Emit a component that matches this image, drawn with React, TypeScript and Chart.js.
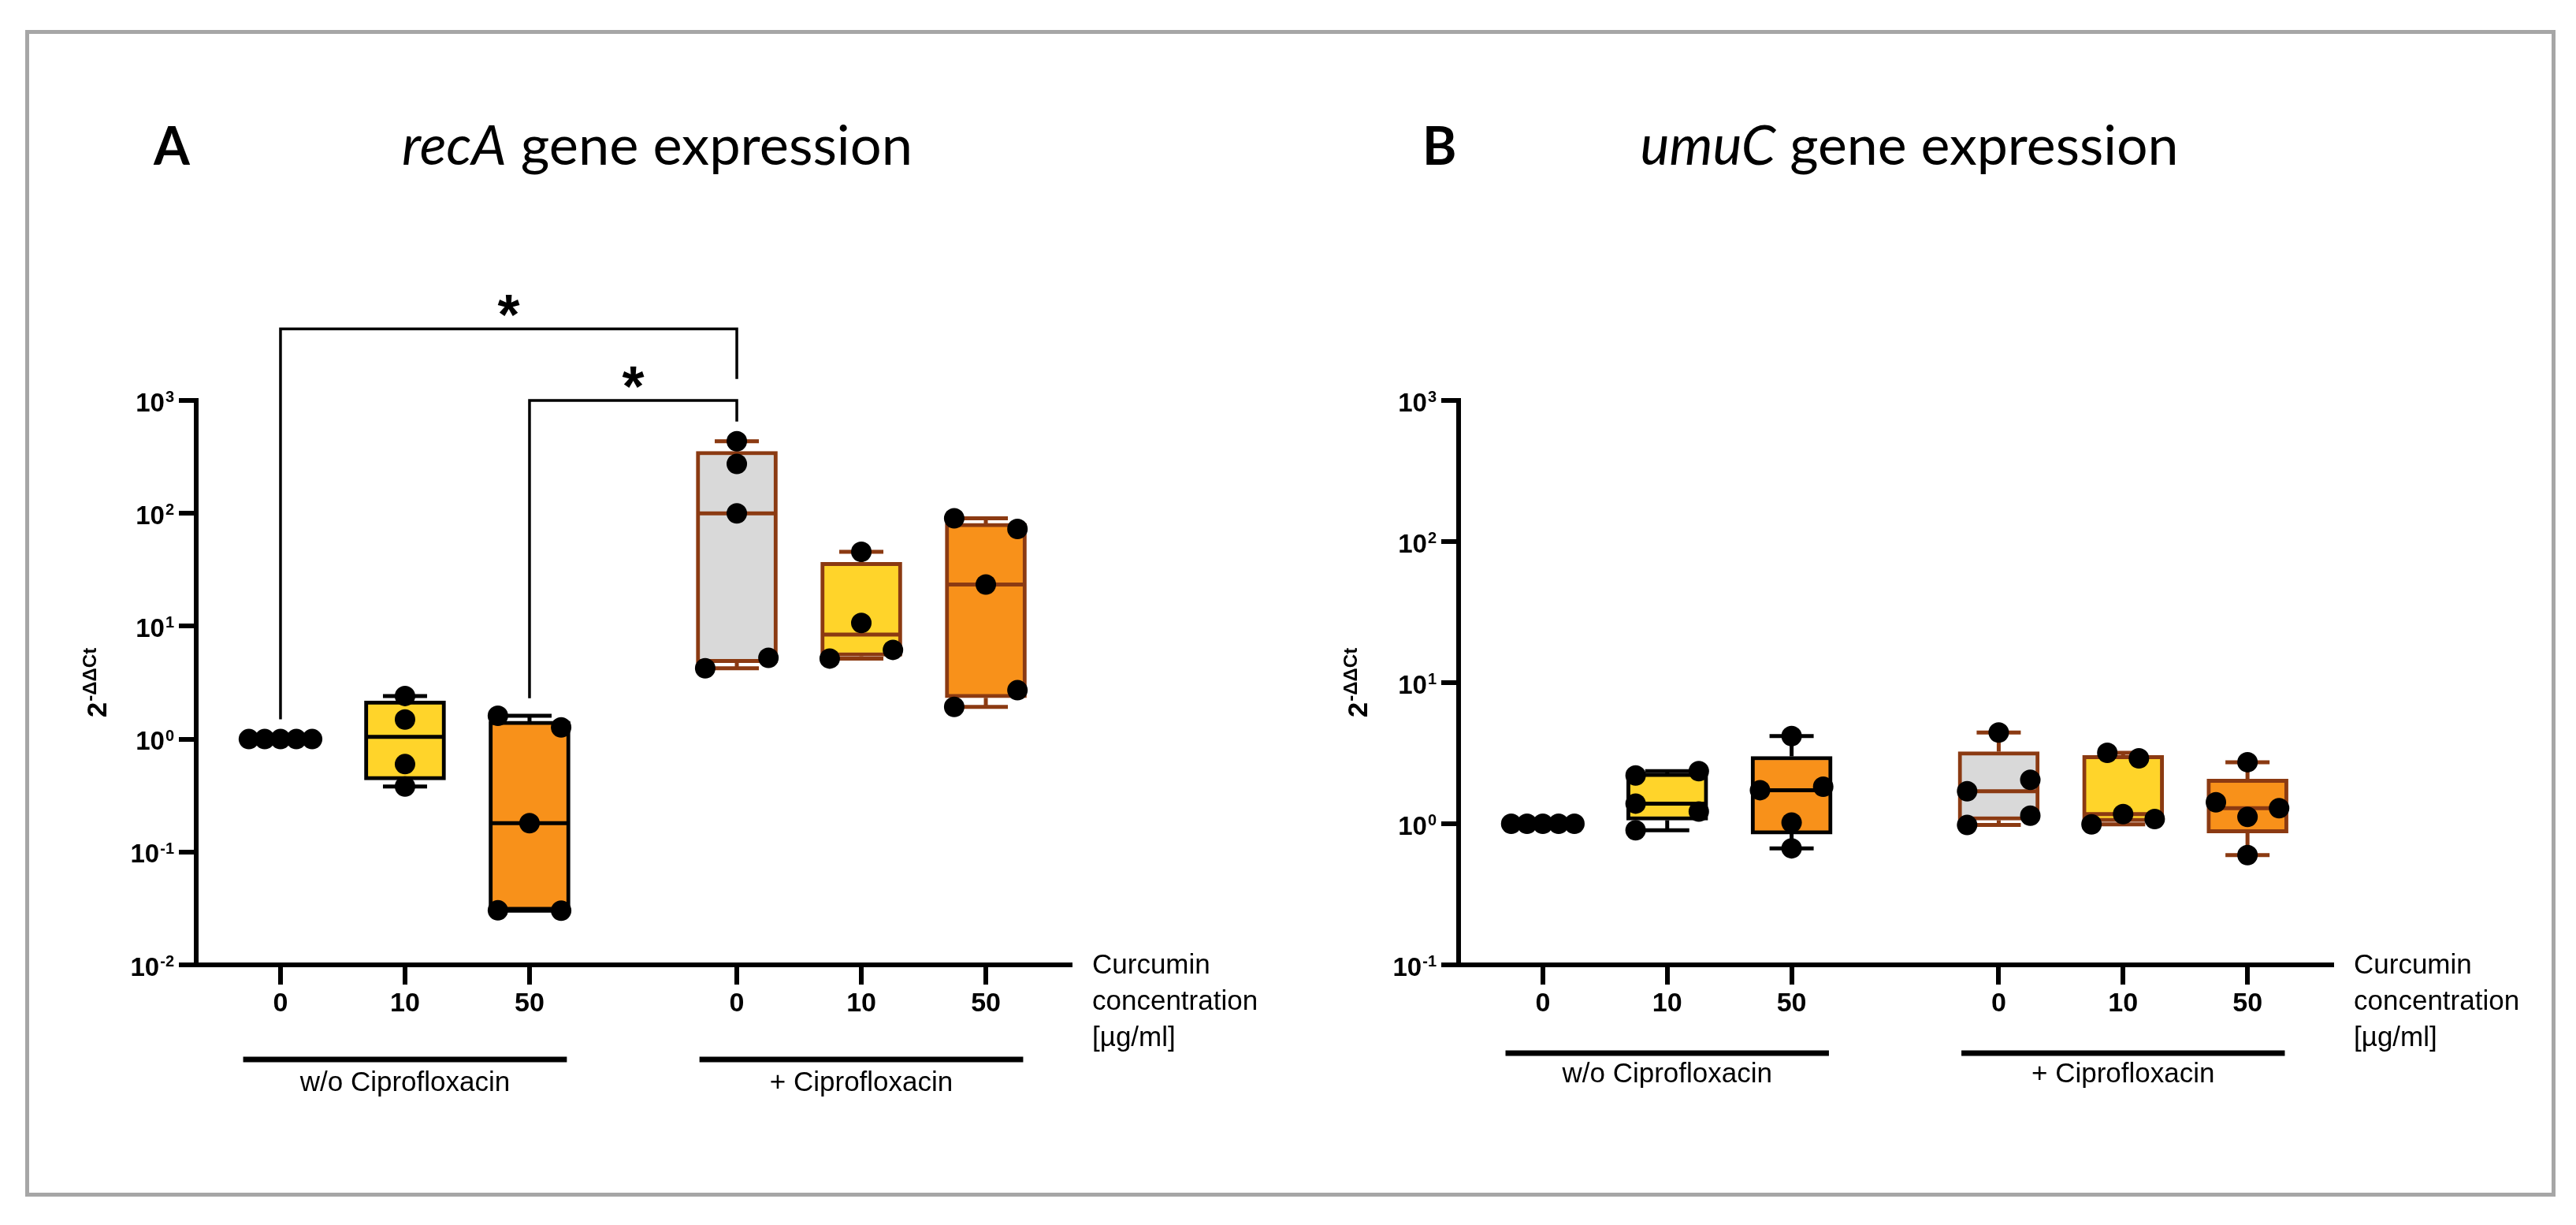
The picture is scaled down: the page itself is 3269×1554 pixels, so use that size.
import React, { useEffect, useRef } from "react";
import { Chart, registerables } from "chart.js";

Chart.register(...registerables);

// ---------------- data ----------------
const curcuminLevels = ["0", "10", "50", "0", "10", "50"];
const treatmentGroups = ["w/o Ciprofloxacin", "+ Ciprofloxacin"];
const xAxisNote = ["Curcumin", "concentration", "[µg/ml]"];

const recaValues: number[][] = [
  [1, 1, 1, 1, 1],
  [2.41, 1.49, 0.6, 0.38],
  [1.61, 1.27, 0.18, 0.0304, 0.0302],
  [435, 274, 100, 5.25, 4.24],
  [45.6, 10.7, 6.17, 5.17],
  [90.3, 72.8, 23.4, 2.71, 1.93],
];

const umucValues: number[][] = [
  [1, 1, 1, 1, 1],
  [2.2, 2.36, 1.39, 1.22, 0.9],
  [4.18, 1.73, 1.83, 1.02, 0.67],
  [4.43, 2.05, 1.7, 1.14, 0.98],
  [3.18, 2.91, 1.17, 1.08, 0.99],
  [2.73, 1.42, 1.29, 1.12, 0.6],
];

const recaTicks = [0.01, 0.1, 1, 10, 100, 1000];
const umucTicks = [0.1, 1, 10, 100, 1000];

const recaSignificance = [
  { from: 0, to: 3, top: 4300, leftEnd: 1.5, rightEnd: 1550, label: "*" },
  { from: 2, to: 3, top: 1000, leftEnd: 2.3, rightEnd: 650, label: "*" },
];

// ---------------- layout / style ----------------
const slotX = [0, 1, 2, 3.665, 4.665, 5.665];
const recaDodge = [
  [-2, -1, 0, 1, 2],
  [0, 0, 0, 0],
  [-2, 2, 0, -2, 2],
  [0, 0, 0, 2, -2],
  [0, 0, 2, -2],
  [-2, 2, 0, 2, -2],
];
const umucDodge = [
  [-2, -1, 0, 1, 2],
  [-2, 2, -2, 2, -2],
  [0, -2, 2, 0, 0],
  [0, 2, -2, 2, -2],
  [-1, 1, 0, 2, -2],
  [0, -2, 2, 0, 0],
];
const DODGE = 0.127;

const BROWN = "#8B3A12";
const GREY = "#D9D9D9";
const YELLOW = "#FFD42A";
const ORANGE = "#F8911A";
const boxFills = ["#FFFFFF", YELLOW, ORANGE, GREY, YELLOW, ORANGE];
const boxBorders = ["#000000", "#000000", "#000000", BROWN, BROWN, BROWN];

const FONT = "'Liberation Sans', Arial, Helvetica, sans-serif";
const TITLE_FONT = "Lato, 'Open Sans', 'Noto Sans', sans-serif";

function quantile(sorted: number[], p: number) {
  const n = sorted.length;
  let pos = p * (n + 1);
  if (pos < 1) pos = 1;
  if (pos > n) pos = n;
  const lo = Math.floor(pos);
  const hi = Math.ceil(pos);
  return sorted[lo - 1] + (pos - lo) * (sorted[hi - 1] - sorted[lo - 1]);
}

function boxStats(vals: number[]) {
  const s = [...vals].sort((a, b) => a - b);
  return {
    min: s[0],
    q1: quantile(s, 0.25),
    med: quantile(s, 0.5),
    q3: quantile(s, 0.75),
    max: s[s.length - 1],
  };
}

type PanelCfg = {
  letter: string;
  gene: string;
  values: number[][];
  dodge: number[][];
  ticks: number[];
  brackets: typeof recaSignificance;
  left: number;
  width: number;
  axisLeft: number;
  axisRight: number;
  letterX: number;
  titleCenter: number;
  titleWidth: number;
  groupLineOff: number;
  groupLabelOff: number;
  yTitleOff: number;
};

const panels: PanelCfg[] = [
  {
    letter: "A",
    gene: "recA",
    values: recaValues,
    dodge: recaDodge,
    ticks: recaTicks,
    brackets: recaSignificance,
    left: 0,
    width: 1650,
    axisLeft: 249,
    axisRight: 1358,
    letterX: 195,
    titleCenter: 834,
    titleWidth: 648,
    groupLineOff: 120,
    groupLabelOff: 30,
    yTitleOff: 127,
  },
  {
    letter: "B",
    gene: "umuC",
    values: umucValues,
    dodge: umucDodge,
    ticks: umucTicks,
    brackets: [],
    left: 1650,
    width: 1619,
    axisLeft: 201,
    axisRight: 1309,
    letterX: 155,
    titleCenter: 773,
    titleWidth: 683,
    groupLineOff: 112,
    groupLabelOff: 27,
    yTitleOff: 129,
  },
];

const H = 1554;
const PLOT_TOP = 508;
const PLOT_BOTTOM = 1224;
const X_AXIS_H = 80;

function Panel({ cfg }: { cfg: PanelCfg }) {
  const ref = useRef<HTMLCanvasElement>(null);

  useEffect(() => {
    const stats = cfg.values.map(boxStats);
    const pts: { x: number; y: number }[] = [];
    cfg.values.forEach((arr, i) =>
      arr.forEach((v, j) => pts.push({ x: slotX[i] + cfg.dodge[i][j] * DODGE, y: v }))
    );

    const decor = {
      id: "decor" + cfg.letter,
      afterDatasetDraw(chart: any, args: any) {
        if (args.index !== 0) return;
        const ctx = chart.ctx;
        const xs = chart.scales.x;
        const ys = chart.scales.y;
        ctx.save();
        ctx.lineWidth = 5;
        ctx.lineCap = "butt";
        stats.forEach((s, i) => {
          if (s.max === s.min) return;
          const px = xs.getPixelForValue(slotX[i]);
          ctx.strokeStyle = boxBorders[i];
          ctx.beginPath();
          const ym = ys.getPixelForValue(s.med);
          ctx.moveTo(px - 49, ym);
          ctx.lineTo(px + 49, ym);
          if (s.max > s.q3) {
            const a = ys.getPixelForValue(s.q3);
            const b = ys.getPixelForValue(s.max);
            ctx.moveTo(px, a);
            ctx.lineTo(px, b);
            ctx.moveTo(px - 28, b);
            ctx.lineTo(px + 28, b);
          }
          if (s.min < s.q1) {
            const a = ys.getPixelForValue(s.q1);
            const b = ys.getPixelForValue(s.min);
            ctx.moveTo(px, a);
            ctx.lineTo(px, b);
            ctx.moveTo(px - 28, b);
            ctx.lineTo(px + 28, b);
          }
          ctx.stroke();
        });
        ctx.restore();
      },
      afterDraw(chart: any) {
        const ctx = chart.ctx;
        const xs = chart.scales.x;
        const ys = chart.scales.y;
        const ca = chart.chartArea;
        ctx.save();
        ctx.fillStyle = "#000";
        ctx.strokeStyle = "#000";

        // panel letter
        ctx.textAlign = "left";
        ctx.textBaseline = "alphabetic";
        ctx.font = `bold 66px ${TITLE_FONT}`;
        ctx.fillText(cfg.letter, cfg.letterX, 209);

        // title
        const rest = " gene expression";
        ctx.font = `italic 60px ${TITLE_FONT}`;
        const g60 = ctx.measureText(cfg.gene).width;
        ctx.font = `60px ${TITLE_FONT}`;
        const r60 = ctx.measureText(rest).width;
        const size = (60 * cfg.titleWidth) / (g60 + r60);
        ctx.font = `italic ${size}px ${TITLE_FONT}`;
        const gw = ctx.measureText(cfg.gene).width;
        ctx.font = `${size}px ${TITLE_FONT}`;
        const rw = ctx.measureText(rest).width;
        const start = cfg.titleCenter - (gw + rw) / 2;
        ctx.font = `italic ${size}px ${TITLE_FONT}`;
        ctx.fillText(cfg.gene, start, 209);
        ctx.font = `${size}px ${TITLE_FONT}`;
        ctx.fillText(rest, start + gw, 209);

        // y tick labels 10^k
        ctx.textAlign = "left";
        cfg.ticks.forEach((v) => {
          const py = ys.getPixelForValue(v);
          const e = Math.round(Math.log10(v));
          const es = e < 0 ? "-" + String(-e) : String(e);
          ctx.font = `bold 20px ${FONT}`;
          const ew = ctx.measureText(es).width;
          ctx.font = `bold 33px ${FONT}`;
          const bw = ctx.measureText("10").width;
          const right = ca.left - 28;
          ctx.fillText("10", right - ew - bw - 1, py + 13.5);
          ctx.font = `bold 20px ${FONT}`;
          ctx.fillText(es, right - ew, py + 2);
        });

        // y axis title 2^-ΔΔCt
        ctx.save();
        ctx.translate(ca.left - cfg.yTitleOff, (ca.top + ca.bottom) / 2);
        ctx.rotate(-Math.PI / 2);
        ctx.font = `bold 35px ${FONT}`;
        const w2 = ctx.measureText("2").width;
        ctx.font = `bold 24px ${FONT}`;
        const sup = "-ΔΔCt";
        const ws = ctx.measureText(sup).width;
        const s0 = -(w2 + ws + 1) / 2;
        ctx.font = `bold 35px ${FONT}`;
        ctx.fillText("2", s0, 12.5);
        ctx.font = `bold 24px ${FONT}`;
        ctx.fillText(sup, s0 + w2 + 1, 0);
        ctx.restore();

        // x axis note
        ctx.font = `35px ${FONT}`;
        ctx.textBaseline = "middle";
        ctx.textAlign = "left";
        xAxisNote.forEach((t, k) => ctx.fillText(t, ca.right + 28, ca.bottom + 1 + k * 46));

        // group lines and labels
        const groups = [
          [0, 2],
          [3, 5],
        ];
        groups.forEach((g, k) => {
          const x1 = xs.getPixelForValue(slotX[g[0]] - 0.3);
          const x2 = xs.getPixelForValue(slotX[g[1]] + 0.3);
          const yl = ca.bottom + cfg.groupLineOff;
          ctx.lineWidth = 7;
          ctx.beginPath();
          ctx.moveTo(x1, yl);
          ctx.lineTo(x2, yl);
          ctx.stroke();
          ctx.font = `35px ${FONT}`;
          ctx.textAlign = "center";
          ctx.textBaseline = "middle";
          ctx.fillText(treatmentGroups[k], (x1 + x2) / 2, yl + cfg.groupLabelOff);
        });

        // significance brackets
        cfg.brackets.forEach((b) => {
          const xl = xs.getPixelForValue(slotX[b.from]);
          const xr = xs.getPixelForValue(slotX[b.to]);
          const yt = ys.getPixelForValue(b.top);
          const yl = ys.getPixelForValue(b.leftEnd);
          const yr = ys.getPixelForValue(b.rightEnd);
          ctx.lineWidth = 3.5;
          ctx.beginPath();
          ctx.moveTo(xl, yl);
          ctx.lineTo(xl, yt);
          ctx.lineTo(xr, yt);
          ctx.lineTo(xr, yr);
          ctx.stroke();
          ctx.font = `bold 72px ${FONT}`;
          ctx.textAlign = "center";
          ctx.textBaseline = "alphabetic";
          const m = ctx.measureText(b.label);
          const cy = yt - 30;
          const base = cy + (m.actualBoundingBoxAscent - m.actualBoundingBoxDescent) / 2;
          ctx.fillText(b.label, (xl + xr) / 2, base);
        });

        ctx.restore();
      },
    };

    const chart = new Chart(ref.current as HTMLCanvasElement, {
      type: "bar",
      data: {
        datasets: [
          {
            type: "bar",
            data: slotX.map((p, i) => ({ x: p, y: [stats[i].q1, stats[i].q3] })) as any,
            backgroundColor: boxFills,
            borderColor: boxBorders,
            borderWidth: 5,
            borderSkipped: false,
            barThickness: 103,
            order: 2,
          } as any,
          {
            type: "scatter",
            data: pts,
            pointRadius: 13,
            pointHoverRadius: 13,
            pointBackgroundColor: "#000",
            pointBorderWidth: 0,
            showLine: false,
            order: 1,
          } as any,
        ],
      },
      options: {
        responsive: false,
        animation: false,
        events: [],
        layout: {
          padding: {
            left: 0,
            top: PLOT_TOP,
            right: cfg.width - cfg.axisRight,
            bottom: H - PLOT_BOTTOM - X_AXIS_H,
          },
        },
        plugins: {
          legend: { display: false },
          tooltip: { enabled: false },
          title: { display: false },
        },
        scales: {
          x: {
            type: "linear",
            min: -0.677,
            max: 6.342,
            offset: false,
            afterBuildTicks: (s: any) => {
              s.ticks = slotX.map((v) => ({ value: v }));
            },
            afterFit: (s: any) => {
              s.height = X_AXIS_H;
            },
            ticks: {
              autoSkip: false,
              maxRotation: 0,
              minRotation: 0,
              padding: 4,
              color: "#000",
              font: { family: FONT, size: 34, weight: "bold" },
              callback: (_v: any, i: number) => curcuminLevels[i],
            },
            grid: {
              offset: false,
              drawOnChartArea: false,
              drawTicks: true,
              tickLength: 25,
              lineWidth: 6,
              color: "#000",
            },
            border: { display: true, width: 6, color: "#000" },
          },
          y: {
            type: "logarithmic",
            min: cfg.ticks[0],
            max: cfg.ticks[cfg.ticks.length - 1],
            afterBuildTicks: (s: any) => {
              s.ticks = cfg.ticks.map((v) => ({ value: v }));
            },
            afterFit: (s: any) => {
              s.width = cfg.axisLeft;
            },
            ticks: { display: false },
            grid: { offset: false, drawOnChartArea: false, drawTicks: true, tickLength: 22, lineWidth: 6, color: "#000" },
            border: { display: true, width: 6, color: "#000" },
          },
        } as any,
      },
      plugins: [decor],
    });
    return () => chart.destroy();
  }, [cfg]);

  return (
    <canvas
      ref={ref}
      width={cfg.width}
      height={H}
      style={{ position: "absolute", left: cfg.left, top: 0, width: cfg.width, height: H }}
    />
  );
}

export default function App() {
  return (
    <div
      style={{
        position: "absolute",
        left: 0,
        top: 0,
        width: 3269,
        height: 1554,
        background: "#ffffff",
        overflow: "hidden",
      }}
    >
      <div
        style={{
          position: "absolute",
          left: 32,
          top: 38,
          width: 3211,
          height: 1480,
          border: "5px solid #A6A6A6",
          boxSizing: "border-box",
        }}
      />
      {panels.map((p) => (
        <Panel key={p.letter} cfg={p} />
      ))}
    </div>
  );
}
